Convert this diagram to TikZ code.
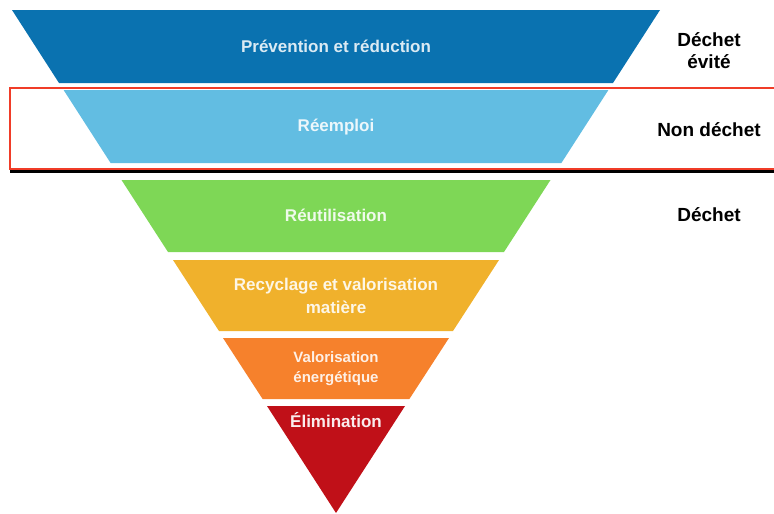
\documentclass[tikz,border=0pt]{standalone}
\usepackage{fontspec}
\setmainfont{Liberation Sans}
\usepackage{tikz}

\definecolor{prevblue}{RGB}{10,114,176}
\definecolor{reemblue}{RGB}{98,189,226}
\definecolor{reutgreen}{RGB}{126,215,86}
\definecolor{recyyellow}{RGB}{240,177,44}
\definecolor{enerorange}{RGB}{246,129,44}
\definecolor{elimred}{RGB}{192,16,24}
\definecolor{framered}{RGB}{240,60,40}

\begin{document}
\begin{tikzpicture}[x=1pt,y=-1pt,
  layertext/.style={font=\bfseries\fontsize{17}{23}\selectfont,align=center},
  sidetext/.style={font=\bfseries\fontsize{19}{22}\selectfont,align=center,text=black}]
\useasboundingbox (0,0) rectangle (774,514);
\fill[prevblue] (12,10)--(660,10)--(613,83)--(59,83)--cycle;
\fill[reemblue] (63.6,90)--(608.4,90)--(561.4,163)--(110.6,163)--cycle;
\fill[reutgreen] (121.5,180)--(550.5,180)--(504,252)--(168,252)--cycle;
\fill[recyyellow] (173,260)--(499,260)--(453,331)--(219,331)--cycle;
\fill[enerorange] (223,338)--(449,338)--(409.4,399)--(262.6,399)--cycle;
\fill[elimred] (267,406)--(405,406)--(336,513)--cycle;
\draw[framered,line width=2pt] (10,87.5) rectangle (777,168.5);
\draw[black,line width=2.5pt] (10,171.5)--(776,171.5);
\node[layertext,text=white!85!prevblue] (prev) at (336,46) {Prévention et réduction};
\node[layertext,text=white!88!reemblue] (reem) at (336,127) {Réemploi};
\node[layertext,text=white!88!reutgreen] (reut) at (336,215) {Réutilisation};
\node[layertext,text=white!88!recyyellow] (recy) at (336,296) {Recyclage et valorisation\\matière};
\node[layertext,text=white!88!enerorange,font=\bfseries\fontsize{15}{20}\selectfont] (ener) at (336,369) {Valorisation\\énergétique};
\node[layertext,text=white!92!elimred] (elim) at (336,420) {Élimination};
\node[sidetext] (evite) at (709,51) {Déchet\\évité};
\node[sidetext] (nondechet) at (709,130) {Non déchet};
\node[sidetext] (dechet) at (709,215) {Déchet};
\end{tikzpicture}
\end{document}
